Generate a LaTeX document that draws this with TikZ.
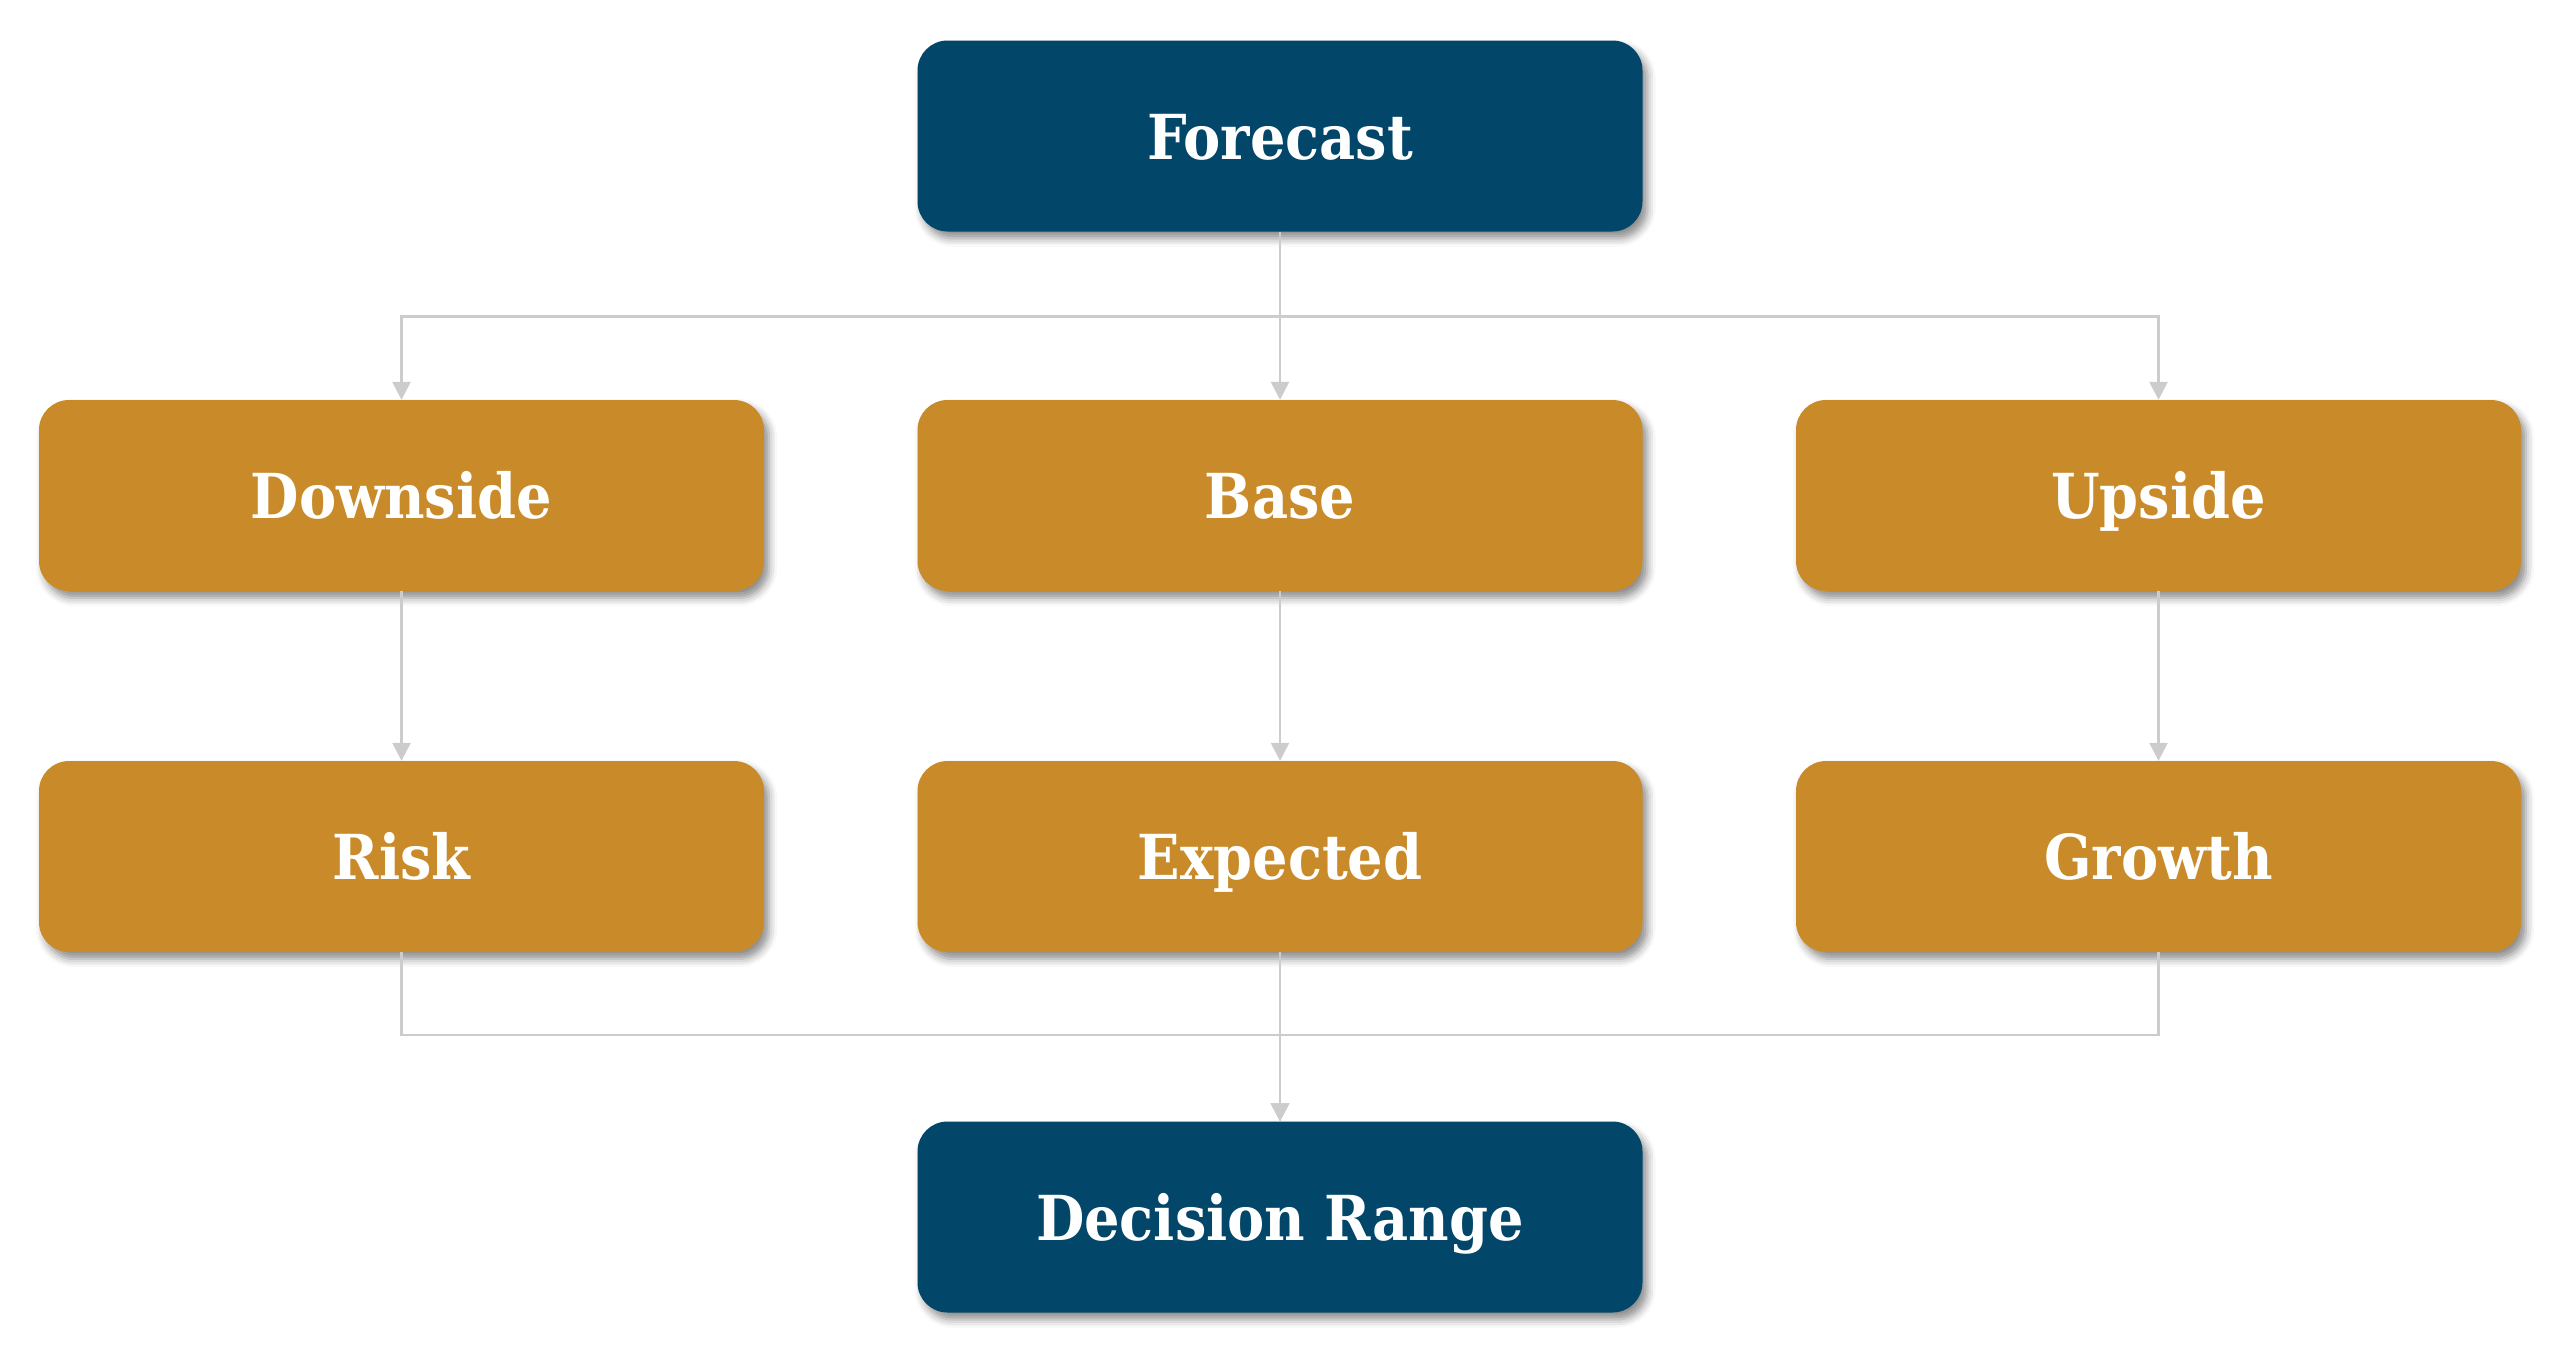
\documentclass[tikz,border=0pt]{standalone}
\usepackage{fontspec}
\newfontfamily\lab{DejaVu Serif Condensed Bold}
\usetikzlibrary{arrows.meta,shadows.blur}
\definecolor{navy}{HTML}{02466A}
\definecolor{gold}{HTML}{C98B2A}
\definecolor{conncol}{HTML}{CCCCCC}
\tikzset{
  box/.style={rectangle, rounded corners=30pt, minimum width=725pt, minimum height=191pt,
    inner sep=0pt, text=white, font=\lab\fontsize{62}{70}\selectfont,
    text height=46pt, text depth=0pt,
    blur shadow={shadow xshift=5pt, shadow yshift=-7pt, shadow blur radius=8pt, shadow opacity=45}},
  navybox/.style={box, fill=navy},
  goldbox/.style={box, fill=gold},
  conn/.style={draw=conncol, line width=2.6pt, -{Triangle[length=18pt,width=18pt]}, conncol}
}
\begin{document}
\begin{tikzpicture}[x=1pt,y=-1pt]
\useasboundingbox (0,0) rectangle (2560,1353);
\node[navybox] (F) at (1280,136) {Forecast};
\node[goldbox] (D) at (401.5,495.5) {Downside};
\node[goldbox] (B) at (1280,495.5) {Base};
\node[goldbox] (U) at (2158.5,495.5) {Upside};
\node[goldbox] (R) at (401.5,856.5) {Risk};
\node[goldbox] (E) at (1280,856.5) {Expected};
\node[goldbox] (G) at (2158.5,856.5) {Growth};
\node[navybox] (DR) at (1280,1217) {Decision Range};
\coordinate (top) at (1280,316.5);
\coordinate (bot) at (1280,1035);
\draw[conn] (F.south) -- (F.south |- top) -| (D.north);
\draw[conn] (F.south |- top) -| (U.north);
\draw[conn] (F) -- (B);
\draw[conn] (D) -- (R);
\draw[conn] (B) -- (E);
\draw[conn] (U) -- (G);
\draw[conn] (R.south) -- (R.south |- bot) -| (DR.north);
\draw[conn] (G.south) -- (G.south |- bot) -| (DR.north);
\draw[conn] (E) -- (DR);
\end{tikzpicture}
\end{document}
